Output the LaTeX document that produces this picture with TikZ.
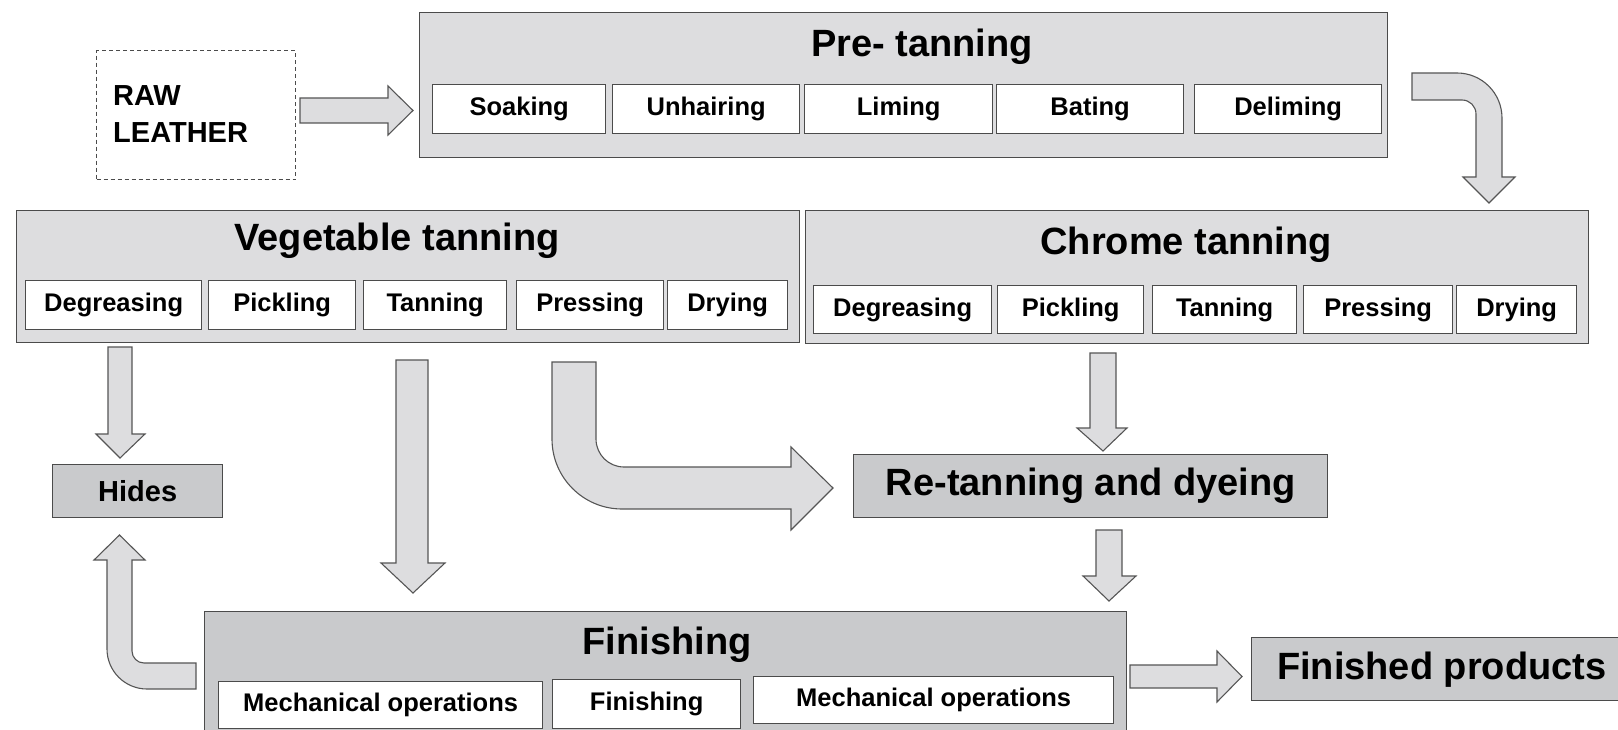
\documentclass[tikz,border=0pt]{standalone}
\usepackage{fontspec}
\setmainfont{Liberation Sans}
\definecolor{lightf}{RGB}{221,221,223}
\definecolor{darkf}{RGB}{201,202,204}
\definecolor{bordc}{RGB}{75,75,75}
\definecolor{arrc}{RGB}{85,85,85}
\newcommand\subf{\fontsize{25.5}{28}\selectfont\bfseries}
\newcommand\titf{\fontsize{38}{42}\selectfont\bfseries}
\newcommand\midf{\fontsize{29}{33}\selectfont\bfseries}
\begin{document}
\begin{tikzpicture}[x=1pt,y=-1pt,
  bigbox/.style={draw=bordc, line width=1.4pt, fill=lightf, anchor=north west, inner sep=0pt},
  darkbox/.style={draw=bordc, line width=1.4pt, fill=darkf, anchor=north west, inner sep=0pt},
  subbox/.style={draw=bordc, line width=1.3pt, fill=white, anchor=north west, inner sep=0pt, font=\subf},
  rawbox/.style={draw=bordc, line width=1.1pt, dash pattern=on 4pt off 3pt, fill=white, anchor=north west, inner sep=0pt},
  titlenode/.style={anchor=base, inner sep=0pt, font=\titf},
  blockarrow/.style={draw=arrc, fill=lightf, line width=1.1pt, line join=miter}
]
\path[use as bounding box] (0,0) rectangle (1618,730);
\clip (0,0) rectangle (1618,730);

% ---------- boxes ----------
\node[rawbox, minimum width=199pt, minimum height=129pt] (raw) at (96,50) {};
\node[anchor=base west, inner sep=0pt, font=\midf] (rawt1) at (113,106) {RAW};
\node[anchor=base west, inner sep=0pt, font=\midf] (rawt2) at (113,143) {LEATHER};

\node[bigbox, minimum width=968pt, minimum height=145pt] (pre) at (419,12) {};
\node[titlenode] (pret) at (922,57) {Pre- tanning};
\node[subbox, minimum width=173pt, minimum height=49pt] (soak) at (432,84) {Soaking};
\node[subbox, minimum width=187pt, minimum height=49pt] (unh) at (612,84) {Unhairing};
\node[subbox, minimum width=188pt, minimum height=49pt] (lim) at (804,84) {Liming};
\node[subbox, minimum width=187pt, minimum height=49pt] (bat) at (996,84) {Bating};
\node[subbox, minimum width=187pt, minimum height=49pt] (del) at (1194,84) {Deliming};

\node[bigbox, minimum width=783pt, minimum height=132pt] (veg) at (16,210) {};
\node[titlenode] (vegt) at (397,251) {Vegetable tanning};
\node[subbox, minimum width=176pt, minimum height=49pt] (vdeg) at (25,280) {Degreasing};
\node[subbox, minimum width=147pt, minimum height=49pt] (vpic) at (208,280) {Pickling};
\node[subbox, minimum width=143pt, minimum height=49pt] (vtan) at (363,280) {Tanning};
\node[subbox, minimum width=147pt, minimum height=49pt] (vpre) at (516,280) {Pressing};
\node[subbox, minimum width=120pt, minimum height=49pt] (vdry) at (667,280) {Drying};

\node[bigbox, minimum width=783pt, minimum height=133pt] (chr) at (805,210) {};
\node[titlenode] (chrt) at (1186,255) {Chrome tanning};
\node[subbox, minimum width=178pt, minimum height=48pt] (cdeg) at (813,285) {Degreasing};
\node[subbox, minimum width=146pt, minimum height=48pt] (cpic) at (997,285) {Pickling};
\node[subbox, minimum width=144pt, minimum height=48pt] (ctan) at (1152,285) {Tanning};
\node[subbox, minimum width=149pt, minimum height=48pt] (cpre) at (1303,285) {Pressing};
\node[subbox, minimum width=120pt, minimum height=48pt] (cdry) at (1456,285) {Drying};

\node[darkbox, minimum width=170pt, minimum height=53pt, font=\midf] (hides) at (52,464) {Hides};
\node[darkbox, minimum width=474pt, minimum height=63pt, font=\titf] (retan) at (853,454) {Re-tanning and dyeing};

\node[darkbox, minimum width=922pt, minimum height=140pt] (fin) at (204,611) {};
\node[titlenode] (fint) at (667,654) {Finishing};
\node[subbox, minimum width=324pt, minimum height=47pt] (mo1) at (218,681) {Mechanical operations};
\node[subbox, minimum width=188pt, minimum height=49pt] (fsub) at (552,679) {Finishing};
\node[subbox, minimum width=360pt, minimum height=47pt] (mo2) at (753,676) {Mechanical operations};

\node[darkbox, minimum width=380pt, minimum height=63pt, font=\titf] (prod) at (1251,637) {Finished products};

% ---------- block arrows ----------
% raw leather -> pre-tanning
\draw[blockarrow] (300,98) -- (388,98) -- (388,86) -- (413,110.5) -- (388,135) -- (388,123) -- (300,123) -- cycle;
% pre-tanning -> chrome tanning (curved)
\draw[blockarrow] (1412,73) -- (1457,73) arc[start angle=-90,end angle=0,radius=45]
  -- (1502,177) -- (1515,177) -- (1489,203) -- (1463,177) -- (1476,177) -- (1476,114)
  arc[start angle=0,end angle=-90,radius=14] -- (1412,100) -- cycle;
% vegetable -> hides
\draw[blockarrow] (108,347) -- (132,347) -- (132,434) -- (145,434) -- (120,458) -- (96,434) -- (108,434) -- cycle;
% vegetable -> finishing
\draw[blockarrow] (396,360) -- (428,360) -- (428,563) -- (445,563) -- (413,593) -- (381,563) -- (396,563) -- cycle;
% pressing -> re-tanning (curved)
\draw[blockarrow] (552,362) -- (596,362) -- (596,439) arc[start angle=180,end angle=90,radius=28]
  -- (791,467) -- (791,447) -- (833,488) -- (791,530) -- (791,509) -- (622,509)
  arc[start angle=90,end angle=180,radius=70] -- cycle;
% chrome -> re-tanning
\draw[blockarrow] (1090,353) -- (1116,353) -- (1116,428) -- (1127,428) -- (1103,451) -- (1077,428) -- (1090,428) -- cycle;
% re-tanning -> finishing
\draw[blockarrow] (1096,530) -- (1122,530) -- (1122,576) -- (1136,576) -- (1109,601) -- (1083,576) -- (1096,576) -- cycle;
% finishing -> hides (curved)
\draw[blockarrow] (196,663) -- (144,663) arc[start angle=90,end angle=180,radius=12]
  -- (132,560) -- (145,560) -- (119.5,535) -- (94,560) -- (107,560) -- (107,649)
  arc[start angle=180,end angle=90,radius=40] -- (196,689) -- cycle;
% finishing -> finished products
\draw[blockarrow] (1130,665) -- (1217,665) -- (1217,651) -- (1242,676.5) -- (1217,702) -- (1217,688) -- (1130,688) -- cycle;
\end{tikzpicture}
\end{document}
